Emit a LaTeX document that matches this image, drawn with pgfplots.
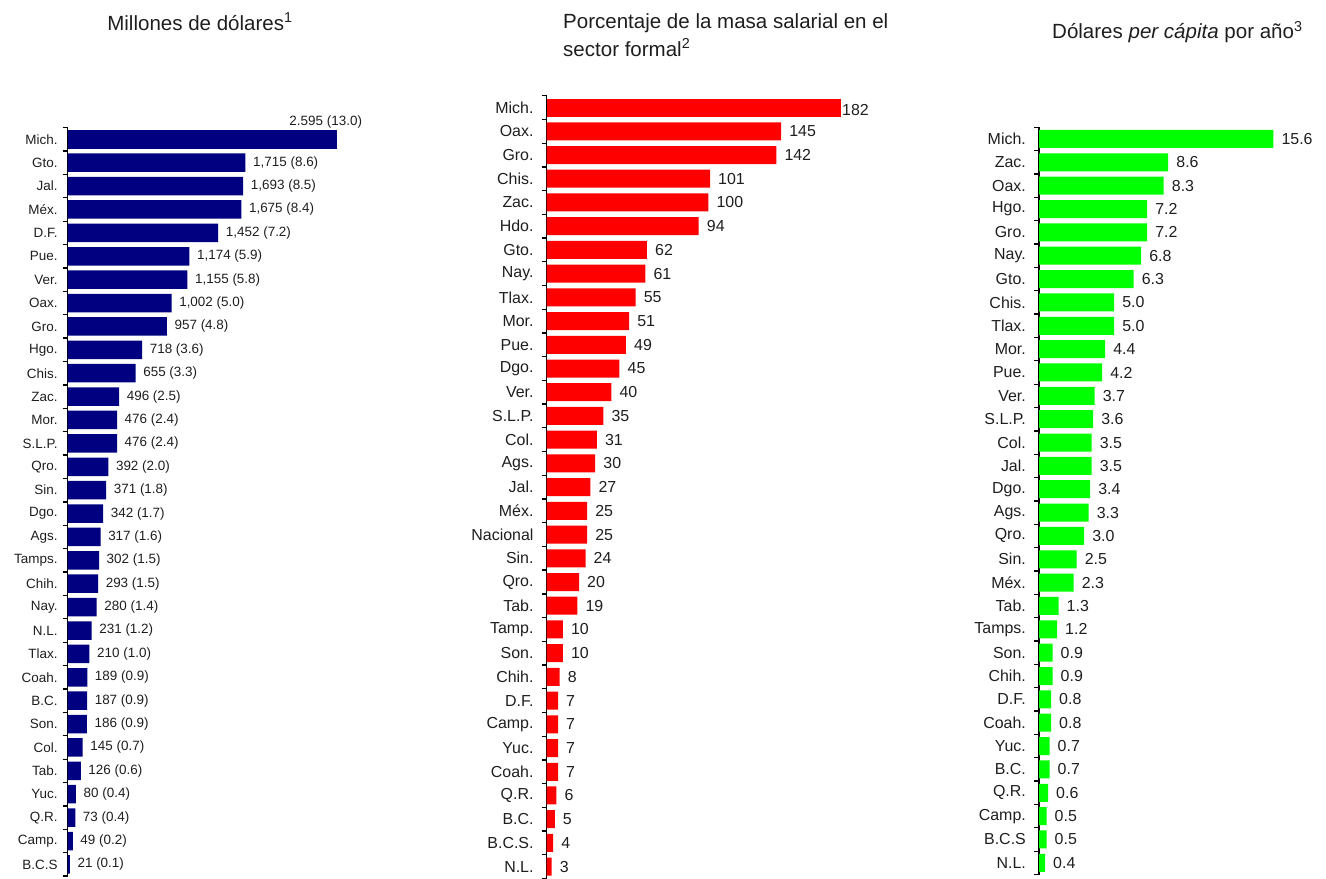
\documentclass[border=0pt]{standalone}
\usepackage{pgfplots}
\usepackage{pgfplotstable}
\pgfplotsset{compat=1.18}
\usepackage{fontspec}
\setmainfont{Liberation Sans}
\definecolor{navyb}{RGB}{0,0,128}
\definecolor{redb}{RGB}{255,0,0}
\definecolor{greenb}{RGB}{0,255,0}
\definecolor{txt}{RGB}{30,30,30}

\pgfplotstableread[col sep=semicolon]{
y;v;name;lab
0;2595;Mich.;2.595 (13.0)
1;1715;Gto.;1,715 (8.6)
2;1693;Jal.;1,693 (8.5)
3;1675;Méx.;1,675 (8.4)
4;1452;D.F.;1,452 (7.2)
5;1174;Pue.;1,174 (5.9)
6;1155;Ver.;1,155 (5.8)
7;1002;Oax.;1,002 (5.0)
8;957;Gro.;957 (4.8)
9;718;Hgo.;718 (3.6)
10;655;Chis.;655 (3.3)
11;496;Zac.;496 (2.5)
12;476;Mor.;476 (2.4)
13;476;S.L.P.;476 (2.4)
14;392;Qro.;392 (2.0)
15;371;Sin.;371 (1.8)
16;342;Dgo.;342 (1.7)
17;317;Ags.;317 (1.6)
18;302;Tamps.;302 (1.5)
19;293;Chih.;293 (1.5)
20;280;Nay.;280 (1.4)
21;231;N.L.;231 (1.2)
22;210;Tlax.;210 (1.0)
23;189;Coah.;189 (0.9)
24;187;B.C.;187 (0.9)
25;186;Son.;186 (0.9)
26;145;Col.;145 (0.7)
27;126;Tab.;126 (0.6)
28;80;Yuc.;80 (0.4)
29;73;Q.R.;73 (0.4)
30;49;Camp.;49 (0.2)
31;21;B.C.S;21 (0.1)
}\tabA

\pgfplotstableread[col sep=semicolon]{
y;v;name;lab
0;182;Mich.;182
1;145;Oax.;145
2;142;Gro.;142
3;101;Chis.;101
4;100;Zac.;100
5;94;Hdo.;94
6;62;Gto.;62
7;61;Nay.;61
8;55;Tlax.;55
9;51;Mor.;51
10;49;Pue.;49
11;45;Dgo.;45
12;40;Ver.;40
13;35;S.L.P.;35
14;31;Col.;31
15;30;Ags.;30
16;27;Jal.;27
17;25;Méx.;25
18;25;Nacional;25
19;24;Sin.;24
20;20;Qro.;20
21;19;Tab.;19
22;10;Tamp.;10
23;10;Son.;10
24;8;Chih.;8
25;7;D.F.;7
26;7;Camp.;7
27;7;Yuc.;7
28;7;Coah.;7
29;6;Q.R.;6
30;5;B.C.;5
31;4;B.C.S.;4
32;3;N.L.;3
}\tabB

\pgfplotstableread[col sep=semicolon]{
y;v;name;lab
0;15.6;Mich.;15.6
1;8.6;Zac.;8.6
2;8.3;Oax.;8.3
3;7.2;Hgo.;7.2
4;7.2;Gro.;7.2
5;6.8;Nay.;6.8
6;6.3;Gto.;6.3
7;5.0;Chis.;5.0
8;5.0;Tlax.;5.0
9;4.4;Mor.;4.4
10;4.2;Pue.;4.2
11;3.7;Ver.;3.7
12;3.6;S.L.P.;3.6
13;3.5;Col.;3.5
14;3.5;Jal.;3.5
15;3.4;Dgo.;3.4
16;3.3;Ags.;3.3
17;3.0;Qro.;3.0
18;2.5;Sin.;2.5
19;2.3;Méx.;2.3
20;1.3;Tab.;1.3
21;1.2;Tamps.;1.2
22;0.9;Son.;0.9
23;0.9;Chih.;0.9
24;0.8;D.F.;0.8
25;0.8;Coah.;0.8
26;0.7;Yuc.;0.7
27;0.7;B.C.;0.7
28;0.6;Q.R.;0.6
29;0.5;Camp.;0.5
30;0.5;B.C.S;0.5
31;0.4;N.L.;0.4
}\tabC

\pgfplotsset{
  panel/.style={
    scale only axis,
    anchor=north west,
    xbar,
    xmin=0,
    y dir=reverse,
    axis x line=none,
    axis y line=left,
    axis line style={-, line width=1.3bp, black},
    clip=false,
    major tick length=0pt,
    minor tick length=5bp,
    tick align=outside,
    ytick pos=left,
    every minor tick/.style={line width=1.3bp, black},
    yticklabel style={inner sep=0pt, text=txt},
    point meta=explicit symbolic,
    nodes near coords={\pgfplotspointmeta},
  },
}

\begin{document}
\begin{tikzpicture}
\path[use as bounding box] (0,0) rectangle (1326bp,-879bp);

% Titles
\node[anchor=base, text=txt, inner sep=0pt, font=\fontsize{20.6}{24}\selectfont] at (200bp,-30bp) {Millones de dólares\textsuperscript{1}};
\node[anchor=base west, text=txt, inner sep=0pt, font=\fontsize{20.6}{24}\selectfont] at (563bp,-28bp) {Porcentaje de la masa salarial en el};
\node[anchor=base west, text=txt, inner sep=0pt, font=\fontsize{20.6}{24}\selectfont] at (563bp,-56bp) {sector formal\textsuperscript{2}};
\node[anchor=base west, text=txt, inner sep=0pt, font=\fontsize{20.6}{24}\selectfont] at (1052bp,-38.5bp) {Dólares \textit{per cápita} por año\textsuperscript{3}};

% Panel 1
\begin{axis}[panel,
  at={(67.7bp,-127.6bp)},
  width=311bp, height=748.5bp,
  xmax=3000,
  ymin=-0.5, ymax=31.5,
  ytick={0,...,31},
  minor ytick={-0.5,0.5,...,31.5},
  yticklabels from table={\tabA}{name},
  yticklabel style={xshift=-10bp, font=\fontsize{13.5}{15}\selectfont},
  nodes near coords style={anchor=west, inner sep=0pt, xshift=7.5bp, text=txt, font=\fontsize{13.5}{15}\selectfont},
]
\addplot[fill=navyb, draw=none, bar width=18.5bp, bar shift=0pt,
  skip coords between index={0}{1}] table[x=v, y=y, meta=lab] {\tabA};
\addplot[fill=navyb, draw=none, bar width=18.5bp, bar shift=0pt,
  skip coords between index={1}{40},
  nodes near coords style={anchor=base east, xshift=18bp, yshift=14bp}] table[x=v, y=y, meta=lab] {\tabA};
\end{axis}

% Panel 2
\begin{axis}[panel,
  at={(546.7bp,-95.7bp)},
  width=323.4bp, height=782.8bp,
  xmax=200,
  ymin=-0.5, ymax=32.5,
  ytick={0,...,32},
  minor ytick={-0.5,0.5,...,32.5},
  yticklabels from table={\tabB}{name},
  yticklabel style={xshift=-13bp, font=\fontsize{16}{18}\selectfont},
  nodes near coords style={anchor=west, inner sep=0pt, xshift=8bp, text=txt, font=\fontsize{16}{18}\selectfont},
]
\addplot[fill=redb, draw=none, bar width=18bp, bar shift=0pt,
  skip coords between index={0}{1}] table[x=v, y=y, meta=lab] {\tabB};
\addplot[fill=redb, draw=none, bar width=18bp, bar shift=0pt,
  skip coords between index={1}{40},
  nodes near coords style={xshift=-7bp, yshift=-2bp}] table[x=v, y=y, meta=lab] {\tabB};
\end{axis}

% Panel 3
\begin{axis}[panel,
  at={(1039bp,-127.3bp)},
  width=270.4bp, height=747.2bp,
  xmax=18,
  ymin=-0.5, ymax=31.5,
  ytick={0,...,31},
  minor ytick={-0.5,0.5,...,31.5},
  yticklabels from table={\tabC}{name},
  yticklabel style={xshift=-13bp, font=\fontsize{16}{18}\selectfont},
  nodes near coords style={anchor=west, inner sep=0pt, xshift=8bp, text=txt, font=\fontsize{16}{18}\selectfont},
]
\addplot[fill=greenb, draw=none, bar width=18bp, bar shift=0pt] table[x=v, y=y, meta=lab] {\tabC};
\end{axis}
\end{tikzpicture}
\end{document}
